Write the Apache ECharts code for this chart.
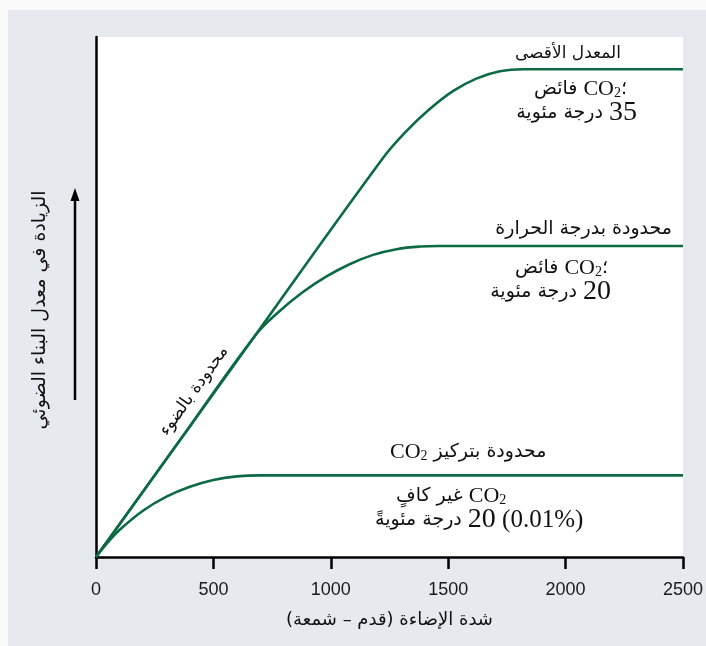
<!DOCTYPE html>
<html>
<head>
<meta charset="utf-8">
<script src="https://cdn.jsdelivr.net/npm/echarts@6/dist/echarts.min.js"></script>
<style>
  html, body { margin: 0; padding: 0; background: #fafafa; }
  #chart { width: 706px; height: 646px; }
</style>
</head>
<body>
<div id="chart"></div>
<script>
// Light intensity axis (foot-candles)
const xTicks = [0, 500, 1000, 1500, 2000, 2500];
// Relative photosynthesis rate (arbitrary units, 0–100)
const maxRate      = [[0, 0], [600, 37.7], [1220, 76.6], [1320, 81.8], [1420, 86.1], [1520, 89.6], [1620, 92.0], [1720, 93.4], [1820, 93.8], [2500, 93.8]];
const tempLimited  = [[0, 0], [350, 22.0], [680, 42.7], [780, 47.2], [880, 50.9], [980, 53.9], [1080, 56.3], [1180, 58.1], [1280, 59.2], [1380, 59.7], [1460, 59.8], [2500, 59.8]];
const co2Limited   = [[0, 0], [50, 2.8], [100, 5.2], [200, 8.9], [300, 11.6], [400, 13.5], [500, 14.8], [600, 15.5], [700, 15.7], [2500, 15.7]];

const GREEN = '#0c6b45';
const AR = '"DejaVu Sans", "Noto Sans", sans-serif';
const SERIF = '"Liberation Serif", "DejaVu Serif", serif';

const rich = {
  ar:  { fontFamily: AR, fontSize: 19, color: '#111' },
  lat: { fontFamily: SERIF, fontSize: 22, color: '#111' },
  sub: { fontFamily: SERIF, fontSize: 14, color: '#111', verticalAlign: 'bottom', padding: [8, 0, 0, 0] },
  big: { fontFamily: SERIF, fontSize: 28, color: '#111' },
  mid: { fontFamily: SERIF, fontSize: 25, color: '#111' }
};

function note(x, y, text, align, size) {
  return {
    type: 'text', x: x, y: y, z: 20,
    style: { text: text, rich: rich, align: align || 'left', verticalAlign: 'middle', fill: '#111', font: (size || 19) + 'px ' + AR }
  };
}

const lineSeries = (name, data) => ({
  name: name, type: 'line', data: data, smooth: 0.4, showSymbol: false,
  lineStyle: { color: GREEN, width: 2.6 }
});

const chart = echarts.init(document.getElementById('chart'));
chart.setOption({
  backgroundColor: '#e6eaee',
  animation: false,
  grid: { left: 96, right: 21, top: 37, bottom: 89, show: true, backgroundColor: '#ffffff', borderWidth: 0 },
  xAxis: {
    type: 'value',
    min: xTicks[0], max: xTicks[xTicks.length - 1], interval: xTicks[1] - xTicks[0],
    axisLine: { show: true, lineStyle: { color: '#000', width: 2.5 } },
    axisTick: { show: true, inside: false, length: 12, lineStyle: { color: '#000', width: 2.5 } },
    axisLabel: { fontFamily: '"Liberation Sans", Arial, sans-serif', fontSize: 18, color: '#1a1a1a', margin: 24, formatter: v => String(v) },
    splitLine: { show: false },
    name: 'شدة الإضاءة (قدم – شمعة)\u200F',
    nameLocation: 'middle', nameGap: 54,
    nameTextStyle: { fontFamily: AR, fontSize: 18, color: '#111' }
  },
  yAxis: {
    type: 'value', min: 0, max: 100,
    axisLine: { show: true, lineStyle: { color: '#000', width: 2.5 } },
    axisTick: { show: false }, axisLabel: { show: false }, splitLine: { show: false }
  },
  series: [
    lineSeries('max', maxRate),
    lineSeries('temp', tempLimited),
    lineSeries('co2', co2Limited)
  ],
  graphic: [
    // pale margins at the top and left edge
    { type: 'rect', shape: { x: 0, y: 0, width: 706, height: 10 }, style: { fill: '#fafafa' }, z: 0 },
    { type: 'rect', shape: { x: 0, y: 0, width: 8, height: 646 }, style: { fill: '#fafafa' }, z: 0 },
    // y-axis title and arrow
    {
      type: 'text', x: 40, y: 310, rotation: Math.PI / 2, z: 20,
      style: { text: 'الزيادة في معدل البناء الضوئي', font: '19px ' + AR, fill: '#111', align: 'center', verticalAlign: 'middle' }
    },
    { type: 'line', shape: { x1: 75, y1: 400, x2: 75, y2: 198 }, style: { stroke: '#000', lineWidth: 2.5 }, z: 20 },
    { type: 'polygon', shape: { points: [[75, 188], [70.5, 201], [79.5, 201]] }, style: { fill: '#000' }, z: 20 },
    // slope annotation
    {
      type: 'text', x: 194, y: 391, rotation: 54.5 * Math.PI / 180, z: 20,
      style: { text: 'محدودة بالضوء', font: '17px ' + AR, fill: '#111', align: 'center', verticalAlign: 'middle' }
    },
    // maximum rate
    note(621, 54, 'المعدل الأقصى', 'right', 17),
    note(627, 89, '{ar|فائض }{lat|CO}{sub|2}{ar|؛}', 'right'),
    note(637, 113, '{ar|درجة مئوية }{big|35}', 'right'),
    // temperature limited
    note(672, 229, 'محدودة بدرجة الحرارة', 'right'),
    note(608, 268, '{ar|فائض }{lat|CO}{sub|2}{ar|؛}', 'right'),
    note(611, 292, '{ar|درجة مئوية }{big|20}', 'right'),
    // CO2 limited
    note(390, 452, '{lat|CO}{sub|2}{ar| محدودة بتركيز}'),
    note(396, 496, '{ar|غير كافٍ }{lat|CO}{sub|2}'),
    note(375, 520, '{ar|درجة مئويةً }{big|20}{mid| (0.01%)}')
  ]
});
</script>
</body>
</html>
